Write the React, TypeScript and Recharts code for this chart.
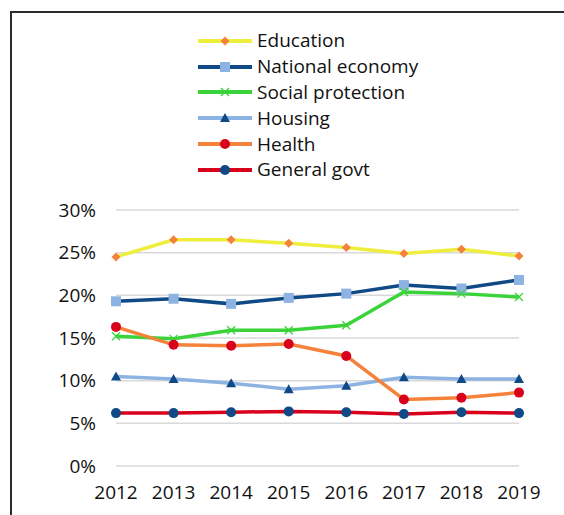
import React from 'react';
import { LineChart, Line, XAxis, YAxis, CartesianGrid } from 'recharts';

const years = ['2012', '2013', '2014', '2015', '2016', '2017', '2018', '2019'];

// shares of total spending, %
const education = [24.5, 26.5, 26.5, 26.1, 25.6, 24.9, 25.4, 24.6];
const nationalEconomy = [19.3, 19.6, 19.0, 19.7, 20.2, 21.2, 20.8, 21.8];
const socialProtection = [15.2, 14.9, 15.9, 15.9, 16.5, 20.4, 20.2, 19.8];
const housing = [10.5, 10.2, 9.7, 9.0, 9.4, 10.4, 10.2, 10.2];
const health = [16.3, 14.2, 14.1, 14.3, 12.9, 7.8, 8.0, 8.6];
const generalGovt = [6.2, 6.2, 6.3, 6.4, 6.3, 6.1, 6.3, 6.2];

const yTicks = [0, 5, 10, 15, 20, 25, 30];

const FONT = '"Open Sans", sans-serif';
const TEXT = '#111';

type Shape = 'diamond' | 'square' | 'cross' | 'triangle' | 'circle';

interface SeriesDef {
  key: string;
  name: string;
  values: number[];
  stroke: string;
  marker: Shape;
  markerColor: string;
}

const series: SeriesDef[] = [
  { key: 'education', name: 'Education', values: education, stroke: '#eeee3c', marker: 'diamond', markerColor: '#f5823a' },
  { key: 'nationalEconomy', name: 'National economy', values: nationalEconomy, stroke: '#0f4a87', marker: 'square', markerColor: '#8db3e2' },
  { key: 'socialProtection', name: 'Social protection', values: socialProtection, stroke: '#3ad43a', marker: 'cross', markerColor: '#3ad43a' },
  { key: 'housing', name: 'Housing', values: housing, stroke: '#8db3e2', marker: 'triangle', markerColor: '#0f4a87' },
  { key: 'health', name: 'Health', values: health, stroke: '#f5823a', marker: 'circle', markerColor: '#d9001b' },
  { key: 'generalGovt', name: 'General govt', values: generalGovt, stroke: '#d9001b', marker: 'circle', markerColor: '#0f4a87' },
];

const data = years.map((year, i) => {
  const row: Record<string, string | number> = { year };
  series.forEach((s) => {
    row[s.key] = s.values[i];
  });
  return row;
});

const Marker = ({ shape, cx, cy, color }: { shape: Shape; cx: number; cy: number; color: string }) => {
  switch (shape) {
    case 'diamond':
      return <polygon points={`${cx},${cy - 4.5} ${cx + 4.5},${cy} ${cx},${cy + 4.5} ${cx - 4.5},${cy}`} fill={color} />;
    case 'square':
      return <rect x={cx - 5} y={cy - 5} width={10} height={10} fill={color} />;
    case 'cross':
      return (
        <g stroke={color} strokeWidth={1.3}>
          <line x1={cx - 4} y1={cy - 4} x2={cx + 4} y2={cy + 4} />
          <line x1={cx - 4} y1={cy + 4} x2={cx + 4} y2={cy - 4} />
        </g>
      );
    case 'triangle':
      return <polygon points={`${cx},${cy - 5} ${cx + 5},${cy + 4} ${cx - 5},${cy + 4}`} fill={color} />;
    default:
      return <circle cx={cx} cy={cy} r={5} fill={color} />;
  }
};

// legend sits above the plot, drawn as plain html so it doesn't eat plot space
const LegendBlock = () => (
  <div style={{ position: 'absolute', left: 196, top: 28, fontFamily: FONT, fontSize: 19, color: TEXT, lineHeight: 1 }}>
    {series.map((s) => (
      <div key={s.key} style={{ display: 'flex', alignItems: 'center', height: 25.8 }}>
        <svg width={58} height={14} style={{ marginRight: 3 }}>
          <line x1={2} y1={7} x2={56} y2={7} stroke={s.stroke} strokeWidth={4} />
          <Marker shape={s.marker} cx={29} cy={7} color={s.markerColor} />
        </svg>
        <span>{s.name}</span>
      </div>
    ))}
  </div>
);

const App = () => (
  <div style={{ position: 'absolute', left: 0, top: 0, width: 564, height: 515, overflow: 'hidden', background: '#fff' }}>
    <div
      style={{
        position: 'absolute',
        left: 10,
        top: 11,
        width: 600,
        height: 600,
        borderTop: '2px solid #2b2b2b',
        borderLeft: '2px solid #2b2b2b',
        boxSizing: 'border-box',
      }}
    />
    <div style={{ position: 'absolute', left: 0, top: 0 }}>
      <LineChart width={564} height={515} data={data} margin={{ top: 210, right: 45, bottom: 0, left: 0 }}>
        <CartesianGrid vertical={false} stroke="#d9d9d9" strokeWidth={1.5} />
        <XAxis
          dataKey="year"
          padding={{ left: 0, right: 0 }}
          axisLine={false}
          tickLine={false}
          height={49}
          tickMargin={14}
          tick={{ fontFamily: FONT, fontSize: 19, fill: TEXT }}
          interval={0}
        />
        <YAxis
          domain={[0, 30]}
          ticks={yTicks}
          width={116}
          axisLine={false}
          tickLine={false}
          tickMargin={14}
          tickFormatter={(v: number) => `${v}%`}
          tick={{ fontFamily: FONT, fontSize: 19, fill: TEXT }}
        />
        {series.map((s) => (
          <Line
            key={s.key}
            dataKey={s.key}
            name={s.name}
            type="linear"
            stroke={s.stroke}
            strokeWidth={3.5}
            isAnimationActive={false}
            dot={(p: any) => <Marker key={`${s.key}-${p.index}`} shape={s.marker} cx={p.cx} cy={p.cy} color={s.markerColor} />}
            activeDot={false}
          />
        ))}
      </LineChart>
    </div>
    <LegendBlock />
  </div>
);

export default App;
